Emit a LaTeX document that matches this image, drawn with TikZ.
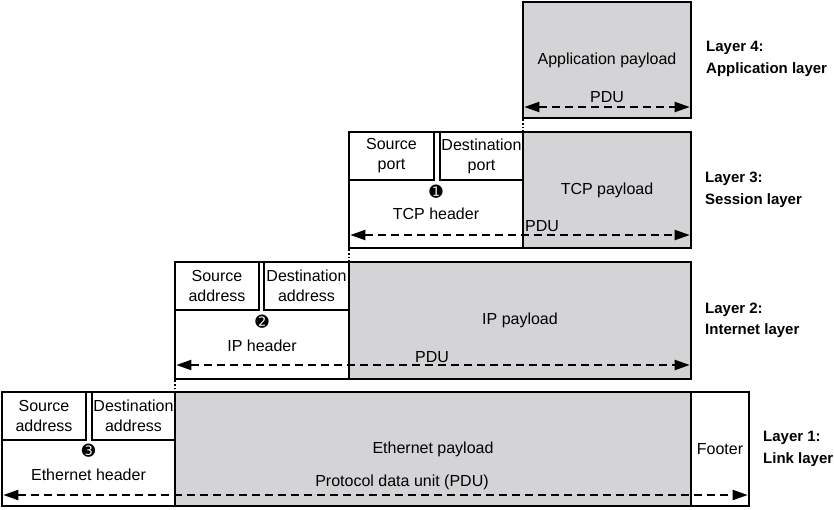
\documentclass[tikz,border=0pt]{standalone}
\usepackage{fontspec}
\setmainfont{Liberation Sans}
\newfontfamily\numfont{DejaVu Sans}
\usetikzlibrary{arrows.meta,positioning}
\definecolor{paygray}{RGB}{212,212,214}

\tikzset{
	box/.style={draw, line width=2.6pt, outer sep=0pt, inner sep=0pt, anchor=north west, align=center, font=\fontsize{16}{20}\selectfont},
	paybox/.style={box, fill=paygray},
	pdu/.style={line width=2pt, dash pattern=on 8pt off 5pt, {Triangle[length=15pt,width=10pt]}-{Triangle[length=15pt,width=10pt]}, shorten <=1.3pt, shorten >=1.3pt},
	link/.style={line width=1.6pt, dotted, shorten <=1.3pt, shorten >=1.3pt},
	txt/.style={font=\fontsize{16}{20}\selectfont, inner sep=0pt},
	layer/.style={font=\fontsize{15}{21.5}\selectfont\bfseries, align=left, inner sep=0pt, anchor=west},
	num/.style={font=\numfont\fontsize{16}{16}\selectfont, inner sep=0pt}
}

\begin{document}
\begin{tikzpicture}[x=1pt, y=-1pt]
	\useasboundingbox (0,0) rectangle (834,509);
	% layer 4
	\node[paybox, minimum width=168pt, minimum height=116pt] (app) at (523,2) {Application payload};
	% layer 3
	\node[box, minimum width=174pt, minimum height=116pt] (tcph) at (349,132) {};
	\node[paybox, minimum width=168pt, minimum height=116pt] (tcpp) at (523,132) {TCP payload};
	\node[box, minimum width=85pt, minimum height=48pt] (sport) at (349,132) {Source\\port};
	\node[box, minimum width=83pt, minimum height=48pt] (dport) at (440,132) {Destination\\port};
	% layer 2
	\node[box, minimum width=174pt, minimum height=117pt] (iph) at (175,262) {};
	\node[paybox, minimum width=342pt, minimum height=117pt] (ipp) at (349,262) {IP payload};
	\node[box, minimum width=84pt, minimum height=48pt] (saddr2) at (175,262) {Source\\address};
	\node[box, minimum width=85pt, minimum height=48pt] (daddr2) at (264,262) {Destination\\address};
	% layer 1
	\node[box, minimum width=173pt, minimum height=114pt] (ethh) at (2,392) {};
	\node[paybox, minimum width=516pt, minimum height=114pt] (ethp) at (175,392) {Ethernet payload};
	\node[box, minimum width=58pt, minimum height=114pt] (foot) at (691,392) {Footer};
	\node[box, minimum width=84pt, minimum height=48pt] (saddr1) at (2,392) {Source\\address};
	\node[box, minimum width=83pt, minimum height=48pt] (daddr1) at (92,392) {Destination\\address};

	\draw[link] (app.south west) -- (tcpp.north west);
	\draw[link] (tcph.south west) -- (ipp.north west);
	\draw[link] (iph.south west) -- (ethp.north west);

	% headers
	\node[num] (n1) at ([yshift=-60pt]tcph.north) {➊};
	\node[txt, anchor=base] (tcpl) at ([yshift=-87pt]tcph.north) {TCP header};
	\node[num] (n2) at ([yshift=-60pt]iph.north) {➋};
	\node[txt, anchor=base] (ipl) at ([yshift=-89pt]iph.north) {IP header};
	\node[num] (n3) at ([yshift=-59pt]ethh.north) {➌};
	\node[txt, anchor=base] (ethl) at ([yshift=-88pt]ethh.north) {Ethernet header};

	% protocol data units
	\draw[pdu] ([yshift=11pt]app.south west) -- ([yshift=11pt]app.south east);
	\draw[pdu] ([yshift=13pt]tcph.south west) -- ([yshift=13pt]tcpp.south east);
	\draw[pdu] ([yshift=14pt]iph.south west) -- ([yshift=14pt]ipp.south east);
	\draw[pdu] ([yshift=11pt]ethh.south west) -- ([yshift=11pt]foot.south east);
	\node[txt, anchor=base] (pdu4) at (607,102) {PDU};
	\node[txt, anchor=base west] (pdu3) at (525,231) {PDU};
	\node[txt, anchor=base] (pdu2) at (432,362) {PDU};
	\node[txt, anchor=base] (pdu1) at (402,486) {Protocol data unit (PDU)};

	% layer names
	\node[layer, right=15pt of app.east, yshift=1pt] (l4) {Layer 4:\\Application layer};
	\node[layer, right=14pt of tcpp.east] (l3) {Layer 3:\\Session layer};
	\node[layer, right=14pt of ipp.east] (l2) {Layer 2:\\Internet layer};
	\node[layer, right=14pt of foot.east] (l1) {Layer 1:\\Link layer};
\end{tikzpicture}
\end{document}
